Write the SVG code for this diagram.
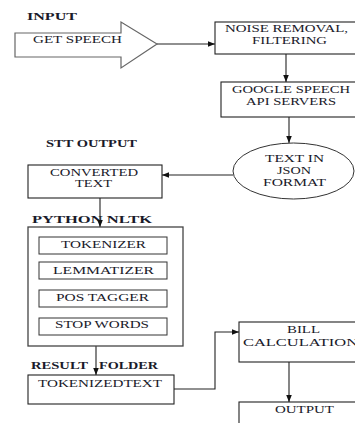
<svg xmlns="http://www.w3.org/2000/svg" width="355" height="423" viewBox="0 0 355 423">
<defs>
<style>
.bg{fill:#fff}
.box{fill:#fff;stroke:#222;stroke-width:1.1}
.inner{fill:#fff;stroke:#333;stroke-width:1}
.big{fill:#fff;stroke:#444;stroke-width:1.3}
.shape{fill:#fff;stroke:#666;stroke-width:1.2}
.t{font-family:"Liberation Serif","Times New Roman",serif;font-size:11px;fill:#1a1a2a}
.s{font-size:10px}
.h{font-family:"Liberation Serif","Times New Roman",serif;font-size:11px;font-weight:bold;fill:#1a1a2a}
.ln{fill:none;stroke:#222;stroke-width:1.1}
</style>
<marker id="ah" viewBox="0 0 10 10" refX="10" refY="5" markerWidth="7" markerHeight="7" markerUnits="userSpaceOnUse" orient="auto">
<path d="M0,1 L10,5 L0,9 z" fill="#111"/>
</marker>
</defs>
<rect class="bg" x="0" y="0" width="355" height="423"/>

<g id="labels">
<text class="h" x="27" y="20" textLength="50" lengthAdjust="spacingAndGlyphs">INPUT</text>
<text class="h" x="46" y="147" textLength="91" lengthAdjust="spacingAndGlyphs">STT OUTPUT</text>
<text class="h" x="32" y="223" textLength="120" lengthAdjust="spacingAndGlyphs">PYTHON NLTK</text>
<text class="h" y="369"><tspan x="31" textLength="57" lengthAdjust="spacingAndGlyphs">RESULT</tspan><tspan x="99" textLength="59" lengthAdjust="spacingAndGlyphs">FOLDER</tspan></text>
</g>

<g id="connectors">
<line class="ln" x1="157" y1="44" x2="215" y2="44" marker-end="url(#ah)"/>
<line class="ln" x1="286" y1="54" x2="286" y2="82" marker-end="url(#ah)"/>
<line class="ln" x1="289" y1="117" x2="289" y2="143" marker-end="url(#ah)"/>
<line class="ln" x1="233" y1="175" x2="162" y2="175" marker-end="url(#ah)"/>
<line class="ln" x1="100" y1="198" x2="100" y2="227" marker-end="url(#ah)"/>
<line class="ln" x1="96" y1="346" x2="96" y2="375" marker-end="url(#ah)"/>
<polyline class="ln" points="174,389 215,389 215,332 239,332" marker-end="url(#ah)"/>
<line class="ln" x1="289" y1="362" x2="289" y2="402" marker-end="url(#ah)"/>
</g>

<g id="get-speech">
<polygon class="shape" points="15,33 121,33 121,22 157,44 121,68 121,57 15,57"/>
<text class="t" x="33" y="43" textLength="89" lengthAdjust="spacingAndGlyphs">GET SPEECH</text>
</g>

<g id="noise-removal">
<rect class="box" x="215" y="22" width="150" height="32"/>
<text class="t s" x="225" y="32" textLength="123" lengthAdjust="spacingAndGlyphs">NOISE REMOVAL,</text>
<text class="t s" x="252" y="43.5" textLength="75" lengthAdjust="spacingAndGlyphs">FILTERING</text>
</g>

<g id="google-speech">
<rect class="box" x="221" y="82" width="150" height="35"/>
<text class="t s" x="232" y="93" textLength="118" lengthAdjust="spacingAndGlyphs">GOOGLE SPEECH</text>
<text class="t s" x="246" y="104.5" textLength="90" lengthAdjust="spacingAndGlyphs">API SERVERS</text>
</g>

<g id="text-json">
<ellipse class="inner" cx="293.5" cy="171" rx="60.5" ry="28"/>
<text class="t s" x="265" y="162" textLength="59" lengthAdjust="spacingAndGlyphs">TEXT IN</text>
<text class="t s" x="277" y="174" textLength="34" lengthAdjust="spacingAndGlyphs">JSON</text>
<text class="t s" x="263" y="186" textLength="63" lengthAdjust="spacingAndGlyphs">FORMAT</text>
</g>

<g id="converted-text">
<rect class="box" x="28" y="165" width="134" height="33"/>
<text class="t s" x="50" y="175.5" textLength="88" lengthAdjust="spacingAndGlyphs">CONVERTED</text>
<text class="t s" x="75" y="187" textLength="37" lengthAdjust="spacingAndGlyphs">TEXT</text>
</g>

<g id="python-nltk">
<rect class="big" x="28" y="227" width="155" height="119"/>
</g>

<g id="tokenizer">
<rect class="inner" x="39" y="237" width="128" height="17"/>
<text class="t" x="61" y="248" textLength="85" lengthAdjust="spacingAndGlyphs">TOKENIZER</text>
</g>
<g id="lemmatizer">
<rect class="inner" x="39" y="262" width="128" height="17"/>
<text class="t" x="53" y="273.5" textLength="101" lengthAdjust="spacingAndGlyphs">LEMMATIZER</text>
</g>
<g id="pos-tagger">
<rect class="inner" x="39" y="290" width="128" height="17"/>
<text class="t" x="56" y="301" textLength="93" lengthAdjust="spacingAndGlyphs">POS TAGGER</text>
</g>
<g id="stop-words">
<rect class="inner" x="39" y="318" width="128" height="17"/>
<text class="t" x="55" y="328" textLength="94" lengthAdjust="spacingAndGlyphs">STOP WORDS</text>
</g>

<g id="tokenized-text">
<rect class="box" x="28" y="375" width="146" height="29"/>
<text class="t" x="38" y="387" textLength="124" lengthAdjust="spacingAndGlyphs">TOKENIZEDTEXT</text>
</g>

<g id="bill-calculation">
<rect class="box" x="239" y="322" width="130" height="40"/>
<text class="t s" x="287" y="333" textLength="33" lengthAdjust="spacingAndGlyphs">BILL</text>
<text class="t s" x="243" y="345.5" textLength="115" lengthAdjust="spacingAndGlyphs">CALCULATION</text>
</g>

<g id="output">
<rect class="box" x="239" y="402" width="130" height="40"/>
<text class="t" x="275" y="413" textLength="59" lengthAdjust="spacingAndGlyphs">OUTPUT</text>
</g>
</svg>
